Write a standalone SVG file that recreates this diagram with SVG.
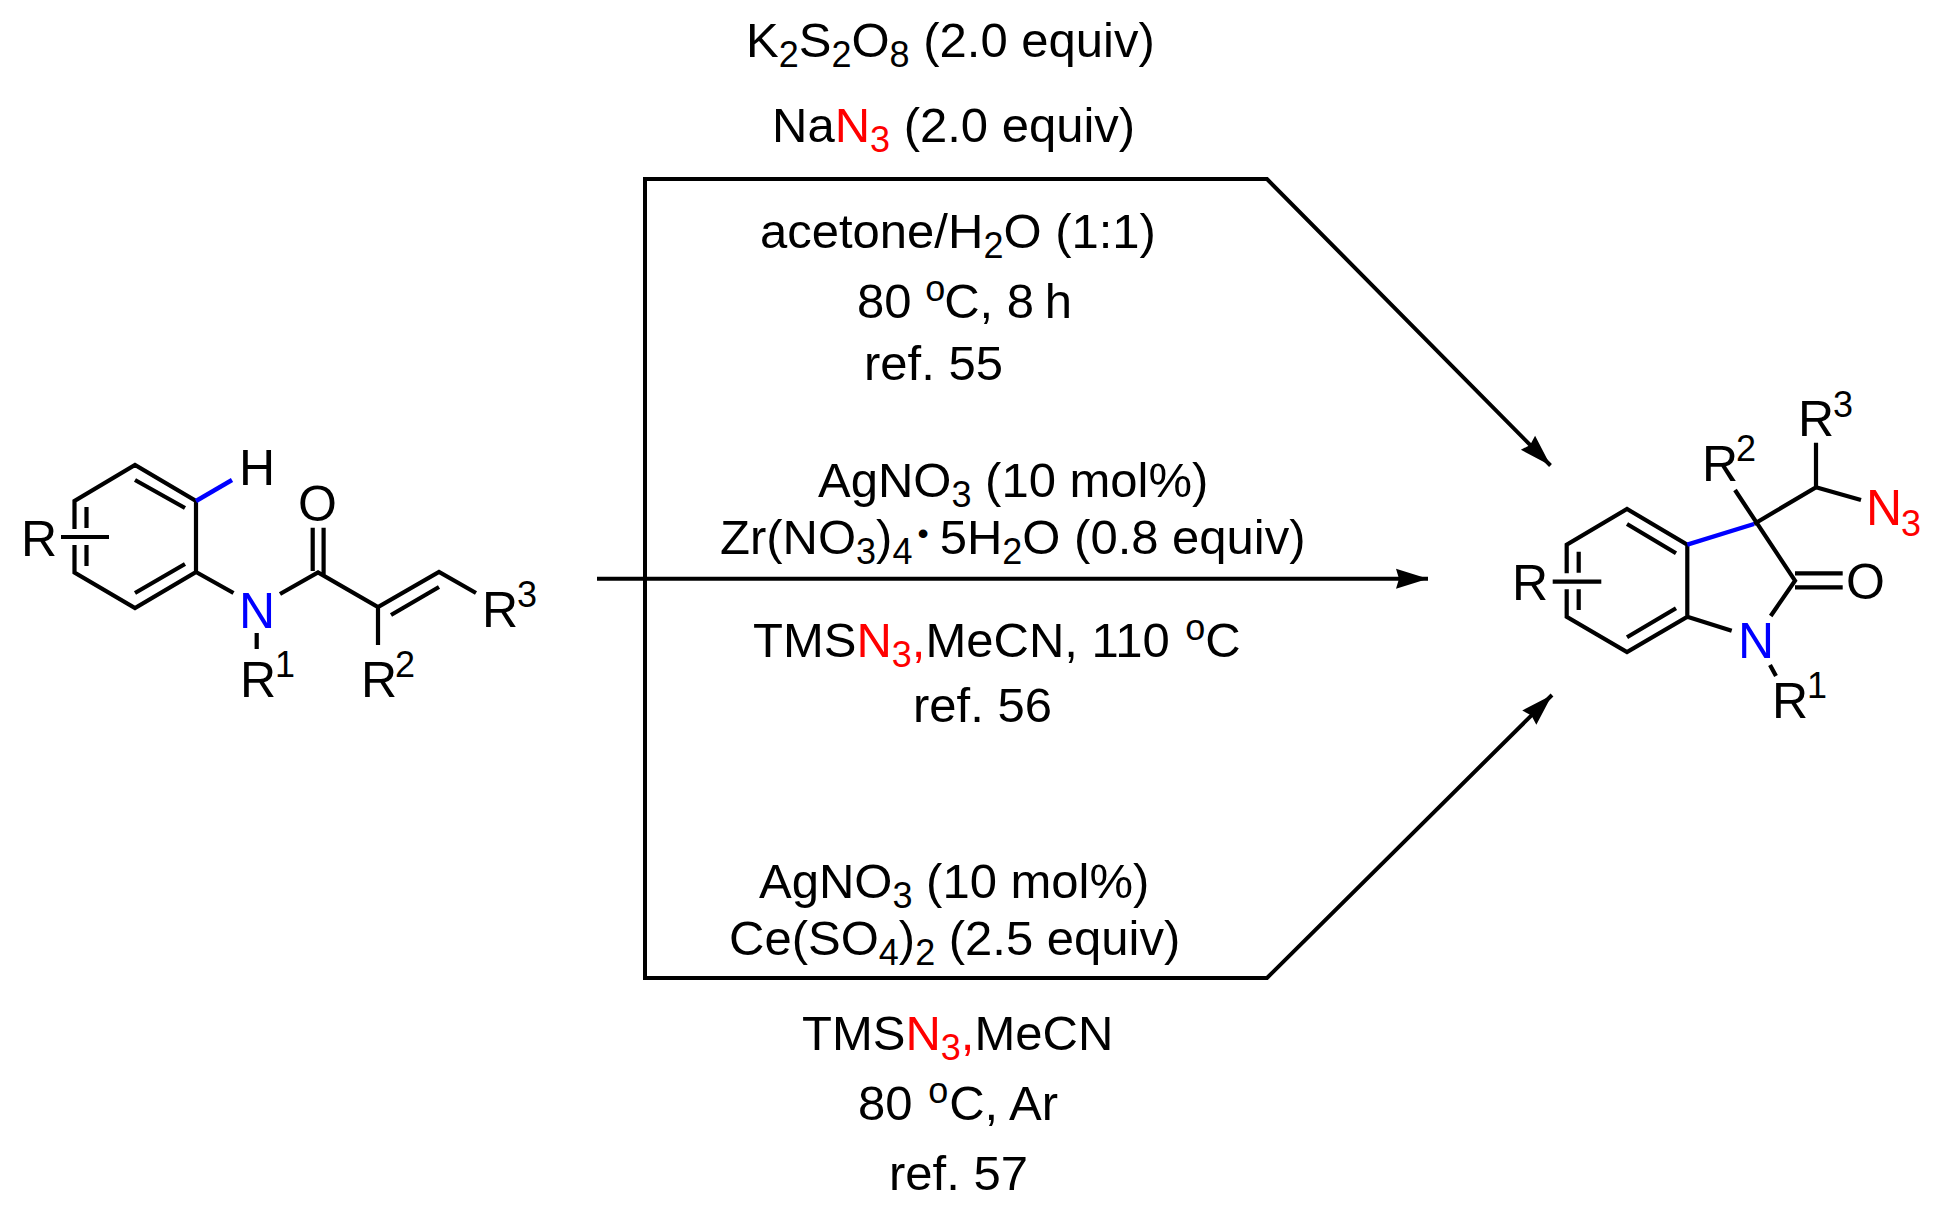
<svg xmlns="http://www.w3.org/2000/svg" width="1935" height="1226" viewBox="0 0 1935 1226">
<style>
text{font-family:"Liberation Sans",Arial,sans-serif;font-size:49px;fill:#000}
.a{font-size:50px}
.s{font-size:36px}
.r{fill:#f00}
.b{fill:#00f}
.d{font-size:32px}
.bond{stroke:#000;stroke-width:4.2;fill:none;stroke-linecap:butt;stroke-linejoin:miter}
.blue{stroke:#00f;stroke-width:4.4;fill:none}
.conn{stroke:#000;stroke-width:4;fill:none;stroke-linejoin:miter}
</style>
<defs>
<marker id="h" markerUnits="userSpaceOnUse" markerWidth="34" markerHeight="24" refX="32" refY="11" orient="auto" viewBox="0 0 34 24"><path d="M0 1L32 11L0 21L3 11Z" fill="#000"/></marker>
</defs>
<rect width="1935" height="1226" fill="#fff"/>
<g id="substrate">
<path class="bond" d="M74.500 529V501L135 465L196 501V572L135 608L74.500 572.500V545M135 480L185 508M135 593L185 564M86.500 507V528M86.500 545V566M61 537H109M196 572L233.500 593M280 594L318 572.500L378 607L439 572L476 593M391 615L439 587M312.700 527.700V571M323.600 527.700V575M378 607V645M256.700 633V649"/>
<path class="blue" d="M196 501L232 480"/>
<text class="a" x="21" y="556">R</text>
<text class="a" x="239" y="485">H</text>
<text class="a" x="298" y="521">O</text>
<text class="a b" x="239" y="627.500">N</text>
<text class="a" x="240" y="697">R</text><text class="s" x="275" y="677">1</text>
<text class="a" x="361" y="697">R</text><text class="s" x="395" y="677">2</text>
<text class="a" x="482" y="626.700">R</text><text class="s" x="517" y="607">3</text>
</g>
<g id="product">
<path class="bond" d="M1566.700 573.300V544.700L1627 509L1687.300 544.700V616.700L1627 652L1566.700 616.700V589.300M1627 524L1676 553.300M1627 637.300L1676 608.300M1578.700 551.700V572.700M1578.700 589.300V610M1552.700 581.700H1601.300M1735 490L1795 580.700L1770.700 616M1687.300 616.700L1731.700 630.700M1754 524L1816 487.300V442.700M1816 487.300L1861 500M1795 573.300H1842.700M1795 587.300H1842.700M1770 665L1776 676"/>
<path class="blue" d="M1687.300 544.700L1754 524"/>
<text class="a" x="1512" y="600">R</text>
<text class="a" x="1798" y="436">R</text><text class="s" x="1833" y="416.700">3</text>
<text class="a" x="1702" y="481">R</text><text class="s" x="1736" y="461">2</text>
<text class="a r" x="1866" y="525">N</text><text class="s r" x="1901" y="535.700">3</text>
<text class="a" x="1846" y="599.300">O</text>
<text class="a b" x="1738" y="658">N</text>
<text class="a" x="1772" y="718">R</text><text class="s" x="1807" y="698">1</text>
</g>
<g id="conditions-top">
<text x="746" y="57.300">K<tspan class="s" dy="10">2</tspan><tspan dy="-10">S</tspan><tspan class="s" dy="10">2</tspan><tspan dy="-10">O</tspan><tspan class="s" dy="10">8</tspan><tspan dy="-10"> (2.0 equiv)</tspan></text>
<text x="772" y="142">Na<tspan class="r">N</tspan><tspan class="s r" dy="10">3</tspan><tspan dy="-10"> (2.0 equiv)</tspan></text>
<text x="760" y="247.500">acetone/H<tspan class="s" dy="10">2</tspan><tspan dy="-10">O (1:1)</tspan></text>
<text x="857" y="317.700">80 <tspan class="s" dy="-17">o</tspan><tspan dy="17" dx="-1">C, 8</tspan><tspan dx="-3"> h</tspan></text>
<text x="864" y="380">ref. 55</text>
</g>
<g id="conditions-middle">
<text x="818" y="497.300">AgNO<tspan class="s" dy="10">3</tspan><tspan dy="-10"> (10 mol%)</tspan></text>
<text x="720" y="554">Zr(NO<tspan class="s" dy="10">3</tspan><tspan dy="-10">)</tspan><tspan class="s" dy="10">4</tspan><tspan class="d" dy="-20" dx="5">•</tspan><tspan dy="10" dx="11">5H</tspan><tspan class="s" dy="10">2</tspan><tspan dy="-10">O (0.8 equiv)</tspan></text>
<text x="753" y="657.300">TMS<tspan class="r">N</tspan><tspan class="s r" dy="10">3</tspan><tspan class="r" dy="-10">,</tspan>MeCN, 110 <tspan class="s" dy="-17" dx="2">o</tspan><tspan dy="17">C</tspan></text>
<text x="913" y="722">ref. 56</text>
</g>
<g id="conditions-bottom">
<text x="759" y="898">AgNO<tspan class="s" dy="10">3</tspan><tspan dy="-10"> (10 mol%)</tspan></text>
<text x="729" y="954.500">Ce(SO<tspan class="s" dy="10">4</tspan><tspan dy="-10">)</tspan><tspan class="s" dy="10">2</tspan><tspan dy="-10"> (2.5 equiv)</tspan></text>
<text x="802" y="1050">TMS<tspan class="r">N</tspan><tspan class="s r" dy="10">3</tspan><tspan class="r" dy="-10">,</tspan>MeCN</text>
<text x="858" y="1120">80 <tspan class="s" dy="-17" dx="2">o</tspan><tspan dy="17" dx="1">C, Ar</tspan></text>
<text x="889" y="1190">ref. 57</text>
</g>
<g id="connectors">
<path class="conn" marker-end="url(#h)" d="M645 579V179H1267L1550.500 465.500"/>
<path class="conn" marker-end="url(#h)" d="M597 578.700H1428"/>
<path class="conn" marker-end="url(#h)" d="M645 579V978H1267L1552 695"/>
</g>
</svg>
